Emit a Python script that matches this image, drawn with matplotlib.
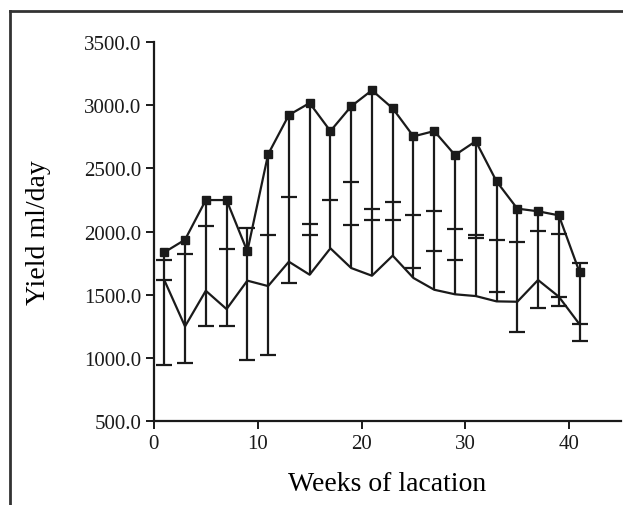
import numpy as np
import matplotlib
matplotlib.use("Agg")
import matplotlib.pyplot as plt
from matplotlib.lines import Line2D

plt.rcParams['font.family'] = ['Liberation Serif', 'DejaVu Serif']

weeks = [1, 3, 5, 7, 9, 11, 13, 15, 17, 19, 21, 23, 25, 27, 29, 31, 33, 35, 37, 39, 41]
upper = [1835, 1935, 2249, 2249, 1843, 2611, 2922, 3017, 2795, 2991, 3118,
         2975, 2753, 2795, 2605, 2715, 2397, 2181, 2160, 2128, 1677]
lower = [1616, 1249, 1531, 1386, 1611, 1568, 1761, 1658, 1867, 1711, 1650,
         1809, 1632, 1539, 1503, 1489, 1447, 1444, 1616, 1484, 1265]
nan = np.nan
cap_1 = [1777, 1819, 2046, 1859, 2028, 1975, 2273, 2062, 2247, 2389, 2176,
         2231, 2130, 2160, 2017, 1972, 1933, 1920, 2001, 1978, 1748]
cap_2 = [1616, 961, 1249, 1249, 980, 1022, 1592, 1975, nan, 2049, 2091,
         2091, 1708, 1848, 1777, 1946, 1519, 1207, 1392, 1484, 1265]
cap_3 = [946, nan, nan, nan, nan, nan, nan, nan, nan, nan, nan,
         nan, nan, nan, nan, nan, nan, nan, nan, 1408, 1136]

x_ticks = [0, 10, 20, 30, 40]
y_ticks = [500, 1000, 1500, 2000, 2500, 3000, 3500]

fig = plt.figure(figsize=(6.23, 5.06), dpi=100)
ax = fig.add_axes([0.247, 0.166, 0.750, 0.749])

col = '#1a1a1a'
allv = np.array([upper, lower, cap_1, cap_2, cap_3], dtype=float)
top = np.nanmax(allv, axis=0)
bot = np.nanmin(allv, axis=0)
ax.vlines(weeks, bot, top, color=col, lw=1.6, zorder=2)
for c in (cap_1, cap_2, cap_3):
    ax.plot(weeks, c, ls='none', marker='_', ms=11, mew=1.6, color=col, zorder=3)
ax.plot(weeks, lower, color=col, lw=1.6, zorder=3)
ax.plot(weeks, upper, color=col, lw=1.6, marker='s', ms=6, zorder=4)

ax.set_xlim(0, 45)
ax.set_ylim(500, 3500)
ax.set_xticks(x_ticks)
ax.set_yticks(y_ticks)
ax.set_yticklabels([f"{v:.1f}" for v in y_ticks])
ax.spines['top'].set_visible(False)
ax.spines['right'].set_visible(False)
for s in ('left', 'bottom'):
    ax.spines[s].set_linewidth(1.6)
    ax.spines[s].set_color(col)
ax.tick_params(axis='both', direction='out', length=6, width=1.4, labelsize=15,
               colors=col, pad=3)
ax.set_xlabel('Weeks of lacation', fontsize=20, labelpad=13)
ax.set_ylabel('Yield ml/day', fontsize=20, labelpad=24)

fig.add_artist(Line2D([10/623, 1.0], [1 - 12/506, 1 - 12/506], transform=fig.transFigure,
                      color='#333333', lw=2))
fig.add_artist(Line2D([10/623, 10/623], [1 - 12/506, 0.0], transform=fig.transFigure,
                      color='#333333', lw=2))

fig.savefig('out.png', dpi=100)
